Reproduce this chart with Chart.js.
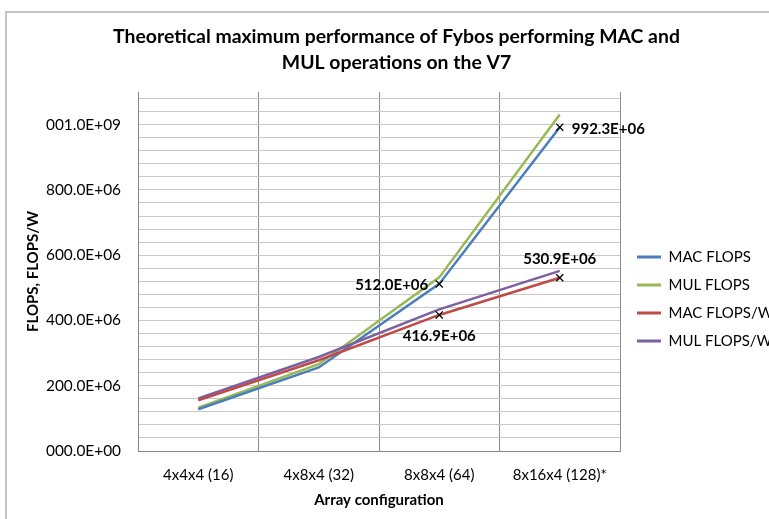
<!DOCTYPE html>
<html>
<head>
<meta charset="utf-8">
<script src="https://cdn.jsdelivr.net/npm/chart.js@4.4.1/dist/chart.umd.min.js"></script>
<style>
  html, body { margin: 0; padding: 0; background: #fff; overflow: hidden; }
  #moldura { position: absolute; left: 5px; top: 11px; width: 900px; height: 700px;
             border-top: 2px solid #c4c4c4; border-left: 2px solid #c4c4c4; }
  #grafico { position: absolute; left: 0; top: 0; }
</style>
</head>
<body>
<div id="moldura"></div>
<canvas id="grafico" width="769" height="519"></canvas>
<script>
// Dados
const categorias = ["4x4x4 (16)", "4x8x4 (32)", "8x8x4 (64)", "8x16x4 (128)*"];
const macFlops = [128e6, 256e6, 512.0e6, 992.3e6];
const mulFlops = [133e6, 266e6, 532e6, 1031e6];
const macFlopsW = [155e6, 278e6, 416.9e6, 530.9e6];
const mulFlopsW = [161e6, 288e6, 434e6, 552e6];
const yTicks = [0, 200e6, 400e6, 600e6, 800e6, 1000e6];
const yTickLabels = ["000.0E+00", "200.0E+06", "400.0E+06", "600.0E+06", "800.0E+06", "001.0E+09"];
const yMax = 1100e6;
const passoMenor = 40e6;

// linhas de grade secundárias (a cada 40M)
const gradeMenor = [];
for (let v = 0; v < yMax; v += passoMenor) gradeMenor.push(v);

// formato de engenharia tipo Excel: 992.3E+06
function formatoEng(v) {
  if (v === 0) return "000.0E+00";
  const exp = Math.floor(Math.log10(Math.abs(v)) / 3) * 3;
  const m = (v / Math.pow(10, exp)).toFixed(1).padStart(5, "0");
  return m + "E+" + String(exp).padStart(2, "0");
}

Chart.defaults.font.family = "Lato";
Chart.defaults.color = "#000";

// legenda à direita e título centrado como no original
const posicoes = {
  id: "posicoes",
  afterLayout(chart) {
    const lg = chart.legend;
    if (lg) { lg.left = 624; lg.right = 769; lg.top = 236.5; lg.bottom = 519; }
    const tb = chart.titleBlock;
    if (tb) { tb.left = 0; tb.right = 793; }
  }
};

// rótulos dos pontos marcados
const rotulos = {
  id: "rotulos",
  afterDatasetsDraw(chart) {
    const ctx = chart.ctx;
    ctx.save();
    ctx.font = "bold 15px Lato";
    ctx.fillStyle = "#000";
    ctx.textBaseline = "middle";
    chart.data.datasets.forEach((ds, di) => {
      if (!ds.rotulo) return;
      const meta = chart.getDatasetMeta(di);
      ds.rotulo.forEach((pos, i) => {
        if (!pos) return;
        const p = meta.data[i];
        const txt = formatoEng(ds.data[i]);
        if (pos === "left") { ctx.textAlign = "right"; ctx.fillText(txt, p.x - 11, p.y + 1); }
        if (pos === "right") { ctx.textAlign = "left"; ctx.fillText(txt, p.x + 12, p.y + 2); }
        if (pos === "below") { ctx.textAlign = "center"; ctx.fillText(txt, p.x, p.y + 21); }
        if (pos === "above") { ctx.textAlign = "center"; ctx.fillText(txt, p.x, p.y - 19); }
      });
    });
    ctx.restore();
  }
};

const linha = (label, data, cor, extra) => Object.assign({
  label: label,
  data: data,
  borderColor: cor,
  backgroundColor: cor,
  borderWidth: 2.5,
  tension: 0,
  fill: false,
  pointRadius: 0,
  pointHoverRadius: 0
}, extra || {});

const marcador = {
  pointStyle: "crossRot",
  pointRadius: [0, 0, 5, 5],
  pointBorderColor: "#000",
  pointBackgroundColor: "#000",
  pointBorderWidth: 1.3
};

new Chart(document.getElementById("grafico"), {
  type: "line",
  data: {
    labels: categorias,
    datasets: [
      linha("MAC FLOPS", macFlops, "#4a7ebb", Object.assign({ order: 3, rotulo: ["", "", "left", "right"] }, marcador)),
      linha("MUL FLOPS", mulFlops, "#98b954", { order: 4 }),
      linha("MAC FLOPS/W", macFlopsW, "#be4b48", Object.assign({ order: 1, rotulo: ["", "", "below", "above"] }, marcador)),
      linha("MUL FLOPS/W", mulFlopsW, "#7d60a0", { order: 2 })
    ]
  },
  options: {
    responsive: false,
    animation: false,
    events: [],
    layout: { padding: { left: 0, right: 149, top: 0, bottom: 0 } },
    scales: {
      x: {
        offset: true,
        afterFit: (s) => { s.height = 68; },
        grid: { offset: true, color: "#8c8c8c", drawTicks: false },
        border: { color: "#868686", width: 1 },
        ticks: { padding: 15, font: { size: 15 } },
        title: { display: true, text: "Array configuration", font: { size: 15, weight: "bold" }, padding: { top: 0, bottom: 10 } }
      },
      y: {
        min: 0,
        max: yMax,
        afterBuildTicks: (s) => { s.ticks = gradeMenor.map((v) => ({ value: v })); },
        afterFit: (s) => { s.width = 138; },
        grid: { color: "#c8c8c8", drawTicks: false },
        border: { color: "#868686", width: 1 },
        ticks: {
          autoSkip: false,
          padding: 17,
          font: { size: 15.4 },
          callback: (v) => {
            const k = yTicks.findIndex((t) => Math.abs(t - v) < 1);
            return k >= 0 ? yTickLabels[k] : "";
          }
        },
        title: { display: true, text: "FLOPS, FLOPS/W", font: { size: 15, weight: "bold" }, padding: { top: 24, bottom: 0 } }
      }
    },
    plugins: {
      title: {
        display: true,
        text: ["Theoretical maximum performance of Fybos performing MAC and", "MUL operations on the V7"],
        font: { size: 19.4, weight: "bold", lineHeight: "26px" },
        color: "#000",
        padding: { top: 24, bottom: 16 }
      },
      legend: {
        position: "chartArea",
        align: "start",
        labels: {
          boxWidth: 24,
          boxHeight: 3,
          padding: 13,
          font: { size: 15 },
          generateLabels: (chart) => chart.data.datasets.map((ds, i) => ({
            text: ds.label,
            fillStyle: ds.borderColor,
            strokeStyle: ds.borderColor,
            lineWidth: 0,
            hidden: false,
            datasetIndex: i,
            fontColor: "#000"
          }))
        }
      },
      tooltip: { enabled: false }
    }
  },
  plugins: [posicoes, rotulos]
});
</script>
</body>
</html>
